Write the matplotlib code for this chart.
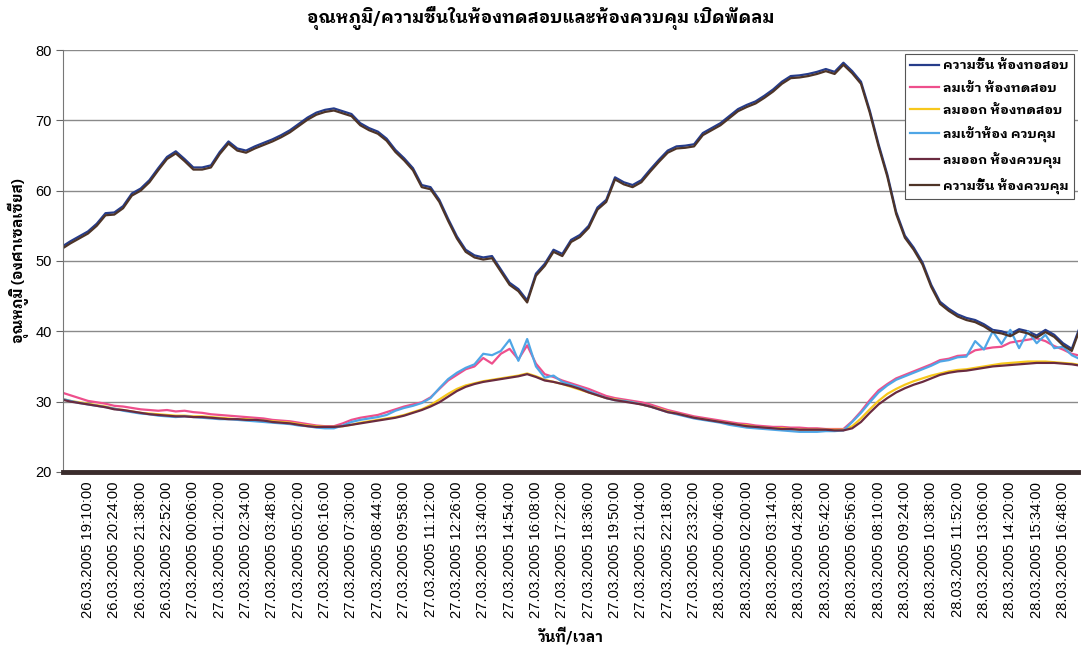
import numpy as np
import matplotlib
matplotlib.use("Agg")
import matplotlib.pyplot as plt
from matplotlib import font_manager
from matplotlib.ft2font import FT2Font

# pick an installed Thai font that also has a bold face
thai_bold = set()
for f in font_manager.fontManager.ttflist:
    try:
        w = f.weight if isinstance(f.weight, int) else 400
        if w >= 600 and ord("ก") in FT2Font(f.fname).get_charmap():
            thai_bold.add(f.name)
    except Exception:
        pass
thai = [n for n in ["IBM Plex Sans Thai Looped", "Noto Sans Thai Looped",
                    "Noto Sans Thai", "IBM Plex Sans Thai", "Sarabun"]
        if n in thai_bold]
thai = thai[:1] or sorted(thai_bold)[:1]
plt.rcParams["font.family"] = thai + ["Liberation Sans", "DejaVu Sans"]
num_font = ["Liberation Sans", "DejaVu Sans"]

# data, one reading every 74/3 minutes, first reading 74 min before the first label
step_min = 74 / 3

humidity_test = [52.0, 52.8, 53.5, 54.2, 55.3, 56.8, 56.9, 57.8, 59.6, 60.3,
                 61.5, 63.2, 64.8, 65.6, 64.5, 63.3, 63.3, 63.6, 65.5, 67.0,
                 66.0, 65.7, 66.3, 66.8, 67.3, 67.9, 68.6, 69.5, 70.4, 71.1,
                 71.5, 71.7, 71.3, 70.9, 69.6, 68.9, 68.4, 67.4, 65.8, 64.6,
                 63.2, 60.8, 60.5, 58.7, 56.0, 53.5, 51.6, 50.8, 50.5, 50.7,
                 48.8, 46.9, 46.0, 44.4, 48.2, 49.6, 51.6, 51.0, 53.0, 53.7,
                 55.0, 57.6, 58.7, 61.9, 61.2, 60.8, 61.5, 63.0, 64.4, 65.7,
                 66.3, 66.4, 66.6, 68.2, 68.9, 69.6, 70.6, 71.6, 72.2, 72.7,
                 73.5, 74.4, 75.5, 76.3, 76.4, 76.6, 76.9, 77.3, 76.9, 78.2,
                 77.0, 75.5, 71.4, 66.6, 62.3, 57.0, 53.6, 51.9, 49.8, 46.6,
                 44.2, 43.2, 42.4, 41.9, 41.6, 41.0, 40.2, 40.0, 39.6, 40.3,
                 40.0, 39.4, 40.2, 39.5, 38.3, 37.5, 40.9]

# first logger reading of the control humidity was 0
humidity_ctrl = [0.0, 51.7, 52.5, 53.2, 53.9, 55.0, 56.5, 56.6, 57.5, 59.3, 60.0,
                 61.2, 62.9, 64.5, 65.3, 64.2, 63.0, 63.0, 63.3, 65.2, 66.7,
                 65.7, 65.4, 66.0, 66.5, 67.0, 67.6, 68.3, 69.2, 70.1, 70.8,
                 71.2, 71.4, 71.0, 70.6, 69.3, 68.6, 68.1, 67.1, 65.5, 64.3,
                 62.9, 60.5, 60.2, 58.4, 55.7, 53.2, 51.3, 50.5, 50.2, 50.4,
                 48.5, 46.6, 45.7, 44.1, 47.9, 49.3, 51.3, 50.7, 52.7, 53.4,
                 54.7, 57.3, 58.4, 61.6, 60.9, 60.5, 61.2, 62.7, 64.1, 65.4,
                 66.0, 66.1, 66.3, 67.9, 68.6, 69.3, 70.3, 71.3, 71.9, 72.4,
                 73.2, 74.1, 75.2, 76.0, 76.1, 76.3, 76.6, 77.0, 76.6, 77.9,
                 76.7, 75.2, 71.1, 66.3, 62.0, 56.7, 53.3, 51.6, 49.5, 46.3,
                 43.9, 42.9, 42.1, 41.6, 41.3, 40.7, 39.9, 39.7, 39.3, 40.0,
                 39.7, 39.1, 39.9, 39.2, 38.0, 37.2, 40.6]

inlet_test = [31.3, 30.9, 30.5, 30.1, 29.9, 29.7, 29.4, 29.3, 29.1, 28.9,
              28.8, 28.7, 28.8, 28.6, 28.7, 28.5, 28.4, 28.2, 28.1, 28.0,
              27.9, 27.8, 27.7, 27.6, 27.4, 27.3, 27.2, 27.0, 26.8, 26.6,
              26.5, 26.5, 26.9, 27.4, 27.7, 27.9, 28.1, 28.5, 28.9, 29.3,
              29.6, 29.9, 30.6, 31.8, 33.0, 33.8, 34.6, 35.0, 36.2, 35.4,
              36.8, 37.5, 36.0, 38.0, 35.4, 33.9, 33.5, 33.0, 32.6, 32.2,
              31.8, 31.3, 30.8, 30.5, 30.3, 30.1, 29.9, 29.6, 29.2, 28.8,
              28.5, 28.2, 27.9, 27.7, 27.5, 27.3, 27.1, 26.9, 26.8, 26.6,
              26.5, 26.4, 26.4, 26.3, 26.3, 26.2, 26.2, 26.1, 26.1, 26.1,
              27.2, 28.6, 30.2, 31.6, 32.5, 33.3, 33.8, 34.3, 34.8, 35.3,
              35.9, 36.1, 36.5, 36.6, 37.3, 37.5, 37.7, 37.8, 38.4, 38.6,
              38.8, 39.0, 38.6, 37.9, 37.4, 36.8, 36.5]

outlet_test = [30.4, 30.1, 29.9, 29.7, 29.5, 29.3, 29.0, 28.8, 28.6, 28.4,
               28.3, 28.2, 28.1, 28.0, 28.0, 27.9, 27.9, 27.8, 27.7, 27.6,
               27.5, 27.5, 27.4, 27.3, 27.2, 27.1, 27.0, 26.8, 26.6, 26.5,
               26.4, 26.4, 26.5, 26.7, 27.0, 27.2, 27.4, 27.6, 27.8, 28.1,
               28.5, 28.9, 29.5, 30.3, 31.1, 31.8, 32.3, 32.6, 32.9, 33.1,
               33.3, 33.5, 33.7, 34.0, 33.6, 33.1, 32.8, 32.5, 32.1, 31.7,
               31.3, 30.9, 30.5, 30.3, 30.1, 29.9, 29.6, 29.3, 29.0, 28.6,
               28.3, 28.0, 27.7, 27.5, 27.3, 27.1, 26.9, 26.7, 26.6, 26.4,
               26.3, 26.2, 26.2, 26.1, 26.0, 26.0, 26.0, 26.0, 26.0, 26.0,
               26.5, 27.6, 28.9, 30.1, 31.1, 31.8, 32.4, 32.9, 33.3, 33.7,
               34.0, 34.3, 34.5, 34.6, 34.8, 35.0, 35.2, 35.4, 35.5, 35.6,
               35.7, 35.7, 35.7, 35.6, 35.5, 35.4, 35.2]

inlet_ctrl = [30.4, 30.1, 29.8, 29.6, 29.4, 29.2, 29.0, 28.7, 28.5, 28.3,
              28.2, 28.0, 27.9, 27.8, 27.9, 27.8, 27.7, 27.6, 27.5, 27.5,
              27.4, 27.3, 27.2, 27.1, 27.0, 26.9, 26.8, 26.6, 26.5, 26.3,
              26.2, 26.2, 26.6, 27.1, 27.4, 27.6, 27.8, 28.1, 28.7, 29.1,
              29.4, 29.8, 30.5, 31.9, 33.2, 34.1, 34.8, 35.3, 36.8, 36.6,
              37.2, 38.8, 35.8, 38.9, 35.0, 33.4, 33.7, 32.8, 32.4, 32.0,
              31.5, 31.0, 30.5, 30.2, 30.1, 29.9, 29.6, 29.3, 28.9, 28.5,
              28.2, 27.9, 27.6, 27.4, 27.2, 27.0, 26.7, 26.5, 26.3, 26.2,
              26.1, 26.0, 25.9, 25.8, 25.7, 25.7, 25.7, 25.8, 25.8, 25.9,
              27.1, 28.4, 29.9, 31.3, 32.3, 33.1, 33.6, 34.1, 34.6, 35.1,
              35.7, 35.9, 36.3, 36.4, 38.6, 37.4, 40.0, 38.2, 40.2, 37.6,
              40.0, 38.3, 39.5, 37.6, 37.8, 36.6, 36.0]

outlet_ctrl = [30.3, 30.0, 29.8, 29.6, 29.4, 29.2, 28.9, 28.8, 28.6, 28.4,
               28.2, 28.1, 28.0, 27.9, 27.9, 27.8, 27.8, 27.7, 27.6, 27.5,
               27.5, 27.4, 27.4, 27.3, 27.1, 27.0, 26.9, 26.7, 26.5, 26.4,
               26.4, 26.4, 26.5, 26.7, 26.9, 27.1, 27.3, 27.5, 27.7, 28.0,
               28.4, 28.8, 29.3, 29.9, 30.7, 31.5, 32.1, 32.5, 32.8, 33.0,
               33.2, 33.4, 33.6, 33.9, 33.5, 33.0, 32.8, 32.5, 32.2, 31.8,
               31.3, 30.9, 30.5, 30.2, 30.0, 29.8, 29.6, 29.3, 28.9, 28.5,
               28.3, 28.0, 27.7, 27.5, 27.3, 27.1, 26.9, 26.7, 26.5, 26.4,
               26.3, 26.2, 26.1, 26.1, 26.0, 26.0, 26.0, 26.0, 25.9, 25.9,
               26.2, 27.1, 28.4, 29.6, 30.5, 31.3, 31.9, 32.4, 32.8, 33.3,
               33.8, 34.1, 34.3, 34.4, 34.6, 34.8, 35.0, 35.1, 35.2, 35.3,
               35.4, 35.5, 35.5, 35.5, 35.4, 35.3, 35.1]

tick_labels = [
    "26.03.2005 19:10:00", "26.03.2005 20:24:00", "26.03.2005 21:38:00",
    "26.03.2005 22:52:00", "27.03.2005 00:06:00", "27.03.2005 01:20:00",
    "27.03.2005 02:34:00", "27.03.2005 03:48:00", "27.03.2005 05:02:00",
    "27.03.2005 06:16:00", "27.03.2005 07:30:00", "27.03.2005 08:44:00",
    "27.03.2005 09:58:00", "27.03.2005 11:12:00", "27.03.2005 12:26:00",
    "27.03.2005 13:40:00", "27.03.2005 14:54:00", "27.03.2005 16:08:00",
    "27.03.2005 17:22:00", "27.03.2005 18:36:00", "27.03.2005 19:50:00",
    "27.03.2005 21:04:00", "27.03.2005 22:18:00", "27.03.2005 23:32:00",
    "28.03.2005 00:46:00", "28.03.2005 02:00:00", "28.03.2005 03:14:00",
    "28.03.2005 04:28:00", "28.03.2005 05:42:00", "28.03.2005 06:56:00",
    "28.03.2005 08:10:00", "28.03.2005 09:24:00", "28.03.2005 10:38:00",
    "28.03.2005 11:52:00", "28.03.2005 13:06:00", "28.03.2005 14:20:00",
    "28.03.2005 15:34:00", "28.03.2005 16:48:00"]
tick_minutes = [74 * k for k in range(len(tick_labels))]

t = -74 + step_min * np.arange(len(humidity_test))
t_ctrl = np.r_[t[0], t]

fig = plt.figure(figsize=(10.81, 6.5), dpi=100)
ax = fig.add_axes([0.0583, 0.274, 0.9389, 0.649])

lw = 1.6
ax.plot(t, humidity_test, color="#263c8a", lw=lw, label="ความชื้น ห้องทอสอบ")
ax.plot(t, inlet_test, color="#ee4f8c", lw=lw, label="ลมเข้า ห้องทดสอบ")
ax.plot(t, outlet_test, color="#f7c81c", lw=lw, label="ลมออก ห้องทดสอบ")
ax.plot(t, inlet_ctrl, color="#4fa6e6", lw=lw, label="ลมเข้าห้อง ควบคุม")
ax.plot(t, outlet_ctrl, color="#6a2b40", lw=lw, label="ลมออก ห้องควบคุม")
ax.plot(t_ctrl, humidity_ctrl, color="#4e3427", lw=lw, label="ความชื้น ห้องควบคุม")

ax.set_xlim(-70, 2780)
ax.set_ylim(20, 80)
ax.set_yticks([20, 30, 40, 50, 60, 70, 80])
ax.yaxis.grid(True, color="#8a8a8a", lw=1.0)
ax.set_axisbelow(True)
ax.set_xticks(tick_minutes)
ax.set_xticklabels(tick_labels, rotation=90, fontsize=10.6, family=num_font)
ax.tick_params(axis="x", length=0, pad=7)
ax.tick_params(axis="y", length=5, color="#666666", labelsize=10.5, pad=3)
for lab in ax.get_yticklabels():
    lab.set_family(num_font)

ax.spines["top"].set_visible(False)
ax.spines["right"].set_visible(False)
ax.spines["left"].set_color("#777777")
ax.spines["bottom"].set_color("#3a2c2c")
ax.spines["bottom"].set_linewidth(3.5)

fig.suptitle("อุณหภูมิ/ความชื้นในห้องทดสอบและห้องควบคุม เปิดพัดลม",
             x=0.5, y=0.99, fontsize=12.5, fontweight="bold")
ax.set_ylabel("อุณหภูมิ (องศาเซลเซียส)", fontsize=10.5, fontweight="bold",
              labelpad=5)
ax.set_xlabel("วันที่/เวลา", fontsize=10.5, fontweight="bold", labelpad=6)

leg = ax.legend(loc="upper left", bbox_to_anchor=(905 / 1081, 1 - 54 / 650),
                bbox_transform=fig.transFigure, fancybox=False, framealpha=1,
                edgecolor="#555555", handlelength=2.2, handletextpad=0.3,
                labelspacing=0.7, borderpad=0.4, borderaxespad=0,
                prop={"weight": "bold", "size": 9.5})
leg.get_frame().set_linewidth(0.8)

fig.savefig("out.png", dpi=100)
